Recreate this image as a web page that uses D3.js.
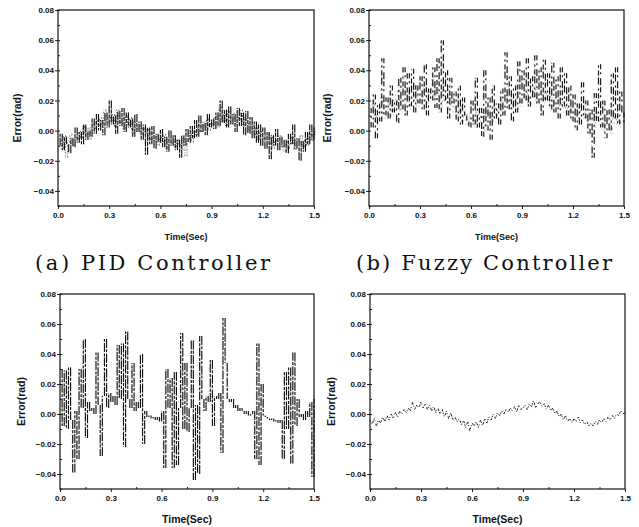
<!DOCTYPE html>
<html>
<head>
<meta charset="utf-8">
<script src="https://cdn.jsdelivr.net/npm/d3@7"></script>
<style>
  body { margin: 0; background: #fff; }
  svg { display: block; }
</style>
</head>
<body>
<script>
// sample step of the traces (sec)
var dt = 0.0125;

var xTicks = [0.0, 0.3, 0.6, 0.9, 1.2, 1.5];
var yTicks = [0.08, 0.06, 0.04, 0.02, 0.00, -0.02, -0.04];
var captions = ["(a) PID Controller", "(b) Fuzzy Controller"];

// error traces (rad), one value every dt
var pidErr = [
  -0.010, -0.002, -0.013, -0.004, -0.009, -0.015, -0.005, -0.011,
  0.002, -0.008, -0.001, -0.009, 0.004, -0.006, 0.000, -0.004,
  0.008, -0.002, 0.011, 0.000, 0.007, -0.003, 0.012, 0.002,
  0.020, 0.004, 0.010, -0.002, 0.013, 0.003, 0.015, -0.001,
  0.012, 0.002, 0.008, -0.004, 0.011, -0.001, 0.006, -0.006,
  0.004, -0.016, 0.002, -0.009, 0.003, -0.012, -0.002, -0.008,
  0.001, -0.011, -0.004, -0.014, 0.000, -0.010, -0.003, -0.013,
  -0.006, -0.018, -0.003, -0.010, 0.001, -0.008, 0.003, -0.005,
  0.007, -0.004, 0.010, -0.001, 0.005, -0.003, 0.011, 0.002,
  0.008, 0.001, 0.012, 0.003, 0.020, 0.005, 0.014, 0.002,
  0.016, 0.004, 0.011, -0.001, 0.015, 0.003, 0.012, -0.003,
  0.013, -0.002, 0.009, -0.005, 0.006, -0.008, 0.004, -0.010,
  0.002, -0.012, -0.001, -0.019, -0.003, -0.010, 0.001, -0.013,
  -0.004, -0.011, -0.006, -0.015, -0.002, -0.009, 0.004, -0.012,
  -0.005, -0.020, -0.007, -0.014, -0.001, -0.009, 0.004, -0.006,
  0.002
];
// lighter grey trace behind it
var pidErr2 = [
  -0.006, -0.012, -0.003, -0.018, -0.008, -0.002, -0.010, -0.004,
  -0.006, 0.000, -0.005, 0.003, -0.003, 0.002, -0.006, 0.005,
  0.001, 0.007, 0.003, 0.009, 0.004, 0.014, 0.005, 0.009,
  0.006, 0.011, 0.002, 0.014, 0.005, 0.009, 0.001, 0.010,
  0.003, 0.009, -0.002, 0.006, 0.001, 0.004, -0.003, 0.002,
  -0.002, 0.001, -0.006, -0.001, -0.007, -0.003, -0.010, -0.004,
  -0.008, -0.002, -0.012, -0.005, -0.009, -0.003, -0.011, -0.006,
  -0.009, -0.013, -0.005, -0.017, -0.006, -0.002, -0.008, 0.000,
  -0.003, 0.004, -0.001, 0.006, 0.002, 0.008, 0.000, 0.005,
  0.004, 0.010, 0.002, 0.016, 0.006, 0.011, 0.003, 0.013,
  0.006, 0.012, 0.004, 0.009, 0.007, 0.014, 0.003, 0.008,
  0.005, -0.001, 0.004, -0.003, 0.002, -0.006, 0.000, -0.004,
  -0.006, -0.002, -0.009, -0.004, -0.012, -0.006, -0.008, -0.003,
  -0.010, -0.014, -0.007, -0.012, -0.009, -0.004, -0.013, -0.006,
  -0.008, -0.003, -0.011, -0.005, -0.010, -0.002, -0.007, 0.000,
  -0.003
];

var fuzzyErr = [
  0.015, 0.002, 0.024, -0.005, 0.018, 0.006, 0.048, 0.010,
  0.022, 0.008, 0.030, 0.012, 0.020, 0.005, 0.035, 0.014,
  0.042, 0.010, 0.038, 0.016, 0.041, 0.012, 0.030, 0.018,
  0.036, 0.014, 0.044, 0.010, 0.028, 0.020, 0.042, 0.015,
  0.048, 0.012, 0.060, 0.020, 0.040, 0.008, 0.035, 0.018,
  0.026, 0.006, 0.030, 0.004, 0.022, 0.010, 0.006, 0.002,
  0.020, 0.004, 0.035, 0.002, 0.015, -0.004, 0.040, 0.000,
  0.022, -0.006, 0.030, 0.008, 0.018, 0.004, 0.028, 0.010,
  0.052, 0.014, 0.036, 0.006, 0.030, 0.012, 0.046, 0.018,
  0.040, 0.020, 0.048, 0.016, 0.036, 0.022, 0.050, 0.018,
  0.042, 0.010, 0.047, 0.020, 0.038, 0.014, 0.045, 0.012,
  0.036, 0.008, 0.042, 0.016, 0.038, 0.010, 0.030, 0.006,
  0.024, 0.000, 0.018, 0.004, 0.032, 0.008, 0.020, -0.002,
  0.014, -0.018, 0.025, 0.006, 0.044, 0.002, 0.020, -0.005,
  0.014, 0.000, 0.038, 0.008, 0.042, 0.004, 0.026, 0.012,
  0.005
];
var fuzzyErr2 = [
  0.010, 0.020, 0.006, 0.015, 0.012, 0.022, 0.008, 0.016,
  0.014, 0.020, 0.010, 0.024, 0.016, 0.030, 0.012, 0.020,
  0.018, 0.026, 0.014, 0.022, 0.020, 0.030, 0.016, 0.024,
  0.022, 0.030, 0.018, 0.026, 0.024, 0.034, 0.020, 0.028,
  0.024, 0.016, 0.030, 0.018, 0.022, 0.014, 0.026, 0.012,
  0.020, 0.010, 0.016, 0.006, 0.014, 0.004, 0.012, 0.008,
  0.010, 0.002, 0.014, 0.006, 0.012, 0.000, 0.016, 0.008,
  0.012, 0.006, 0.018, 0.010, 0.014, 0.020, 0.012, 0.018,
  0.016, 0.024, 0.014, 0.020, 0.018, 0.026, 0.016, 0.022,
  0.020, 0.028, 0.018, 0.024, 0.022, 0.030, 0.020, 0.026,
  0.024, 0.018, 0.028, 0.020, 0.026, 0.016, 0.022, 0.018,
  0.020, 0.014, 0.022, 0.012, 0.018, 0.010, 0.016, 0.012,
  0.014, 0.008, 0.016, 0.010, 0.012, 0.006, 0.014, 0.004,
  0.010, 0.002, 0.012, 0.006, 0.008, 0.000, 0.010, 0.004,
  0.008, -0.002, 0.012, 0.004, 0.010, 0.002, 0.006, 0.008,
  0.006
];

var cErr = [
  0.030, -0.008, 0.029, -0.010, 0.031, -0.004, -0.039, 0.002,
  -0.030, 0.030, 0.004, 0.050, -0.016, 0.008, 0.002, 0.004,
  0.000, 0.041, 0.006, -0.028, 0.012, 0.050, 0.004, 0.014,
  0.008, 0.012, 0.006, 0.046, 0.010, 0.047, -0.022, 0.055,
  0.010, 0.004, 0.034, 0.002, 0.008, 0.004, 0.040, -0.020,
  0.002, -0.002, -0.001, -0.003, -0.002, -0.004, -0.002, -0.005,
  0.002, -0.036, 0.030, 0.004, 0.024, -0.036, 0.028, -0.034,
  0.004, 0.054, -0.010, 0.034, -0.012, 0.004, 0.049, -0.044,
  0.006, -0.040, 0.052, 0.010, 0.002, 0.012, 0.008, 0.036,
  -0.008, 0.012, 0.010, 0.014, -0.026, 0.064, 0.034, 0.010,
  0.008, 0.010, 0.004, 0.006, 0.002, 0.004, 0.002, 0.000,
  0.002, -0.001, 0.000, 0.002, -0.030, 0.047, -0.034, 0.020,
  -0.001, -0.002, -0.003, -0.004, -0.003, -0.005, -0.004, -0.006,
  -0.004, -0.030, 0.028, -0.010, 0.031, -0.033, 0.041, -0.008,
  0.010, -0.002, 0.000, -0.004, 0.002, -0.002, 0.008, -0.042,
  0.010
];

var dErr = [
  -0.004, -0.007, -0.003, -0.008, -0.004, -0.006, -0.002, -0.005,
  -0.001, -0.004, 0.000, -0.003, 0.001, -0.002, 0.002, 0.000,
  0.003, 0.001, 0.004, 0.002, 0.008, 0.003, 0.006, 0.004,
  0.008, 0.004, 0.007, 0.003, 0.006, 0.002, 0.005, 0.001,
  0.004, 0.000, 0.003, -0.002, 0.002, -0.003, 0.001, -0.004,
  -0.002, -0.005, -0.003, -0.007, -0.004, -0.009, -0.005, -0.011,
  -0.006, -0.008, -0.005, -0.009, -0.004, -0.008, -0.003, -0.006,
  -0.002, -0.004, 0.000, -0.003, 0.001, -0.001, 0.002, 0.000,
  0.003, 0.001, 0.004, 0.002, 0.005, 0.001, 0.006, 0.003,
  0.004, 0.006, 0.003, 0.007, 0.005, 0.009, 0.004, 0.007,
  0.008, 0.005, 0.007, 0.003, 0.006, 0.002, 0.004, 0.000,
  0.002, -0.002, 0.000, -0.004, -0.001, -0.005, -0.003, -0.006,
  -0.003, -0.005, -0.002, -0.006, -0.004, -0.007, -0.005, -0.008,
  -0.006, -0.008, -0.005, -0.007, -0.004, -0.006, -0.003, -0.005,
  -0.002, -0.004, -0.001, -0.003, 0.000, -0.001, 0.002, 0.000,
  0.001
];

var w = 639, h = 527;

var svg = d3.select("body")
      .append("svg")
      .attr("width", w)
      .attr("height", h);

// plot boxes
var panels = [
  {vals: pidErr,   vals2: pidErr2,   l: 58,  r: 314, t: 10,  b: 206, ylab: 21,  xlabY: 240, fs: 9,    dash: "8,1,4,1", dash2: "2,1.5,1,1", grey: "#6e6e6e"},
  {vals: fuzzyErr, vals2: fuzzyErr2, l: 369, r: 624, t: 10,  b: 206, ylab: 331, xlabY: 240, fs: 9,    dash: "5,3,2,4,7,2", dash2: "1,3,2,4", grey: "#a0a0a0"},
  {vals: cErr,     vals2: null,      l: 60,  r: 314, t: 294, b: 489, ylab: 25,  xlabY: 523, fs: 10.5, dash: "9,1.2,3,1.5"},
  {vals: dErr,     vals2: null,      l: 370, r: 625, t: 294, b: 489, ylab: 335, xlabY: 523, fs: 10.5, dash: null}
];

panels.forEach(function(p, k) {
  var x = d3.scaleLinear().domain([0, 1.5]).range([p.l, p.r]);
  var y = d3.scaleLinear().domain([-0.05, 0.08]).range([p.b, p.t]);
  var g = svg.append("g");

  var line = d3.line()
      .x(function(d, i) { return x(i * dt); })
      .y(function(d) { return y(d); });

  // each sample drawn as a vertical stroke from the previous value
  function strokes(vals, off, cls, color, sw, dash, op) {
    g.selectAll("." + cls)
       .data(d3.pairs(vals))
       .enter()
       .append("line")
       .attr("class", cls)
       .attr("x1", function(d, i) { return x((i + 1 + off) * dt); })
       .attr("x2", function(d, i) { return x((i + 1 + off) * dt); })
       .attr("y1", function(d) { return y(d[0]); })
       .attr("y2", function(d) { return y(d[1]); })
       .attr("stroke", color)
       .attr("stroke-width", sw)
       .attr("stroke-dasharray", dash)
       .attr("opacity", op);
  }

  if (k < 3) {
    g.append("path")
       .datum(p.vals)
       .attr("d", line)
       .attr("fill", "none")
       .attr("stroke", "#bbb")
       .attr("stroke-width", 0.5)
       .attr("stroke-dasharray", "1,3");
    if (p.vals2) strokes(p.vals2, 0.5, "s2", p.grey, 1, p.dash2, 0.9);
    strokes(p.vals, 0, "s1", "#111", 1.15, p.dash, 1);
  } else {
    g.append("path")
       .datum(p.vals)
       .attr("d", line)
       .attr("fill", "none")
       .attr("stroke", "#222")
       .attr("stroke-width", 1)
       .attr("stroke-dasharray", "1.5,1.5,1,2.5,2.5,1.2");
  }

  // minor ticks (inside)
  g.append("g")
     .attr("transform", "translate(" + p.l + ",0)")
     .call(d3.axisRight(y).tickValues(d3.range(-0.05, 0.0801, 0.01)).tickSize(2).tickFormat(""))
     .call(function(s) { s.select(".domain").remove(); });
  g.append("g")
     .attr("transform", "translate(0," + p.b + ")")
     .call(d3.axisTop(x).tickValues([0.15, 0.45, 0.75, 1.05, 1.35]).tickSize(2).tickFormat(""))
     .call(function(s) { s.select(".domain").remove(); });

  var ya = g.append("g")
     .attr("transform", "translate(" + p.l + ",0)")
     .call(d3.axisLeft(y).tickValues(yTicks).tickSize(3).tickPadding(1).tickFormat(d3.format(".2f")));
  var xa = g.append("g")
     .attr("transform", "translate(0," + p.b + ")")
     .call(d3.axisBottom(x).tickValues(xTicks).tickSize(3).tickPadding(3).tickFormat(d3.format(".1f")));

  [ya, xa].forEach(function(a) {
    a.select(".domain").remove();
    a.selectAll("text")
       .attr("font-family", "Liberation Sans, Arial, sans-serif")
       .attr("font-weight", "bold")
       .attr("font-size", "8px")
       .attr("fill", "#111");
  });
  g.selectAll(".tick line").attr("stroke", "#222");

  // frame
  g.append("rect")
     .attr("x", p.l)
     .attr("y", p.t)
     .attr("width", p.r - p.l)
     .attr("height", p.b - p.t)
     .attr("fill", "none")
     .attr("stroke", "#111")
     .attr("stroke-width", 1.2);

  g.append("text")
     .text("Time(Sec)")
     .attr("text-anchor", "middle")
     .attr("x", (p.l + p.r) / 2)
     .attr("y", p.xlabY)
     .attr("font-family", "Liberation Sans, Arial, sans-serif")
     .attr("font-weight", "bold")
     .attr("font-size", p.fs + "px")
     .attr("fill", "#111");

  g.append("text")
     .text("Error(rad)")
     .attr("text-anchor", "middle")
     .attr("transform", "translate(" + p.ylab + "," + ((p.t + p.b) / 2 + 10) + ") rotate(-90)")
     .attr("font-family", "Liberation Sans, Arial, sans-serif")
     .attr("font-weight", "bold")
     .attr("font-size", "10.5px")
     .attr("fill", "#111");
});

svg.selectAll(".caption")
   .data(captions)
   .enter()
   .append("text")
   .attr("class", "caption")
   .text(function(d) { return d; })
   .attr("x", function(d, i) { return i == 0 ? 35 : 356; })
   .attr("y", 270)
   .attr("textLength", function(d, i) { return i == 0 ? 235 : 256; })
   .attr("lengthAdjust", "spacing")
   .attr("font-family", "DejaVu Serif, serif")
   .attr("font-size", "21px")
   .attr("fill", "#111");
</script>
</body>
</html>
